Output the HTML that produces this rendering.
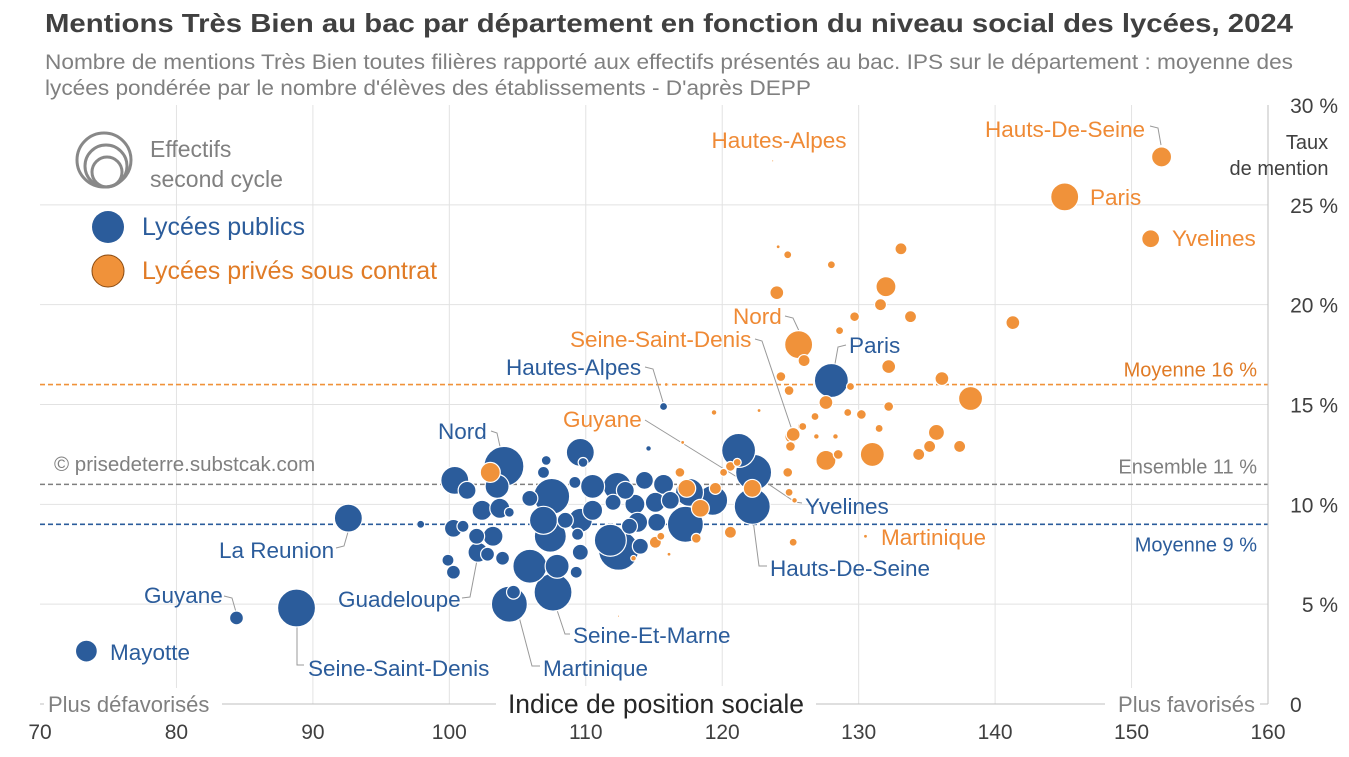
<!DOCTYPE html>
<html><head><meta charset="utf-8">
<style>
body{margin:0;background:#fff;}
svg{display:block;font-family:"Liberation Sans",sans-serif;}
</style></head>
<body>
<svg id="chart" width="1349" height="757" viewBox="0 0 1349 757">
<text x="45" y="32" font-size="26" font-weight="bold" fill="#404040" textLength="1248" lengthAdjust="spacingAndGlyphs">Mentions Très Bien au bac par département en fonction du niveau social des lycées, 2024</text>
<text x="45" y="69" font-size="21" fill="#808080" textLength="1248" lengthAdjust="spacingAndGlyphs">Nombre de mentions Très Bien toutes filières rapporté aux effectifs présentés au bac. IPS sur le département : moyenne des</text>
<text x="45" y="95" font-size="21" fill="#808080" textLength="766" lengthAdjust="spacingAndGlyphs">lycées pondérée par le nombre d'élèves des établissements - D'après DEPP</text>
<g id="grid"></g>
<g id="refs"></g>
<g id="leaders" stroke="#999" stroke-width="1" fill="none">
<polyline points="1150,126 1158,128 1161,145"/>
<polyline points="785,316 793,318 800,333"/>
<polyline points="755,339 762,341 792,430"/>
<polyline points="645,420 745,482"/>
<polyline points="645,367 653,369 663,402"/>
<polyline points="491,431 497,433 503,460"/>
<polyline points="846,345 838,347 833,375"/>
<polyline points="336,548 344,546 348,532"/>
<polyline points="224,596 232,598 236,612"/>
<polyline points="297,627 297,665 304,665"/>
<polyline points="462,598 470,597 478,555"/>
<polyline points="540,666 532,666 513,594"/>
<polyline points="570,634 565,634 553,598"/>
<polyline points="767,566 759,566 752,512"/>
<polyline points="802,503 795,502 755,475"/>
</g>
<g id="bubbles"></g>
<g id="axes"></g>
<g font-size="22.5">
<text x="779" y="148" text-anchor="middle" fill="#ef8a35">Hautes-Alpes</text>
<text x="985" y="137" fill="#ef8a35">Hauts-De-Seine</text>
<text x="1090" y="205" fill="#ef8a35">Paris</text>
<text x="1172" y="246" fill="#ef8a35">Yvelines</text>
<text x="733" y="324" fill="#ef8a35">Nord</text>
<text x="570" y="347" fill="#ef8a35">Seine-Saint-Denis</text>
<text x="563" y="427" fill="#ef8a35">Guyane</text>
<text x="881" y="545" fill="#ef8a35">Martinique</text>
<text x="506" y="375" fill="#2b5c9b">Hautes-Alpes</text>
<text x="438" y="439" fill="#2b5c9b">Nord</text>
<text x="849" y="353" fill="#2b5c9b">Paris</text>
<text x="219" y="558" fill="#2b5c9b">La Reunion</text>
<text x="144" y="603" fill="#2b5c9b">Guyane</text>
<text x="308" y="676" fill="#2b5c9b">Seine-Saint-Denis</text>
<text x="338" y="607" fill="#2b5c9b">Guadeloupe</text>
<text x="543" y="676" fill="#2b5c9b">Martinique</text>
<text x="573" y="643" fill="#2b5c9b">Seine-Et-Marne</text>
<text x="770" y="576" fill="#2b5c9b">Hauts-De-Seine</text>
<text x="805" y="514" fill="#2b5c9b">Yvelines</text>
<text x="110" y="660" fill="#2b5c9b">Mayotte</text>
</g>
<text x="54" y="471" font-size="20.5" fill="#808080">© prisedeterre.substcak.com</text>
<g>
<circle cx="104" cy="160" r="27" fill="none" stroke="#888" stroke-width="3"/>
<circle cx="106" cy="166" r="21" fill="none" stroke="#888" stroke-width="3"/>
<circle cx="107" cy="172" r="15" fill="none" stroke="#888" stroke-width="3"/>
<text x="150" y="157" font-size="23" fill="#808080">Effectifs</text>
<text x="150" y="187" font-size="23" fill="#808080">second cycle</text>
<circle cx="108" cy="227" r="16" fill="#2b5c9b"/>
<text x="142" y="235" font-size="25" fill="#2b5c9b">Lycées publics</text>
<circle cx="108" cy="271" r="16" fill="#f0923a" stroke="#8a4a10" stroke-width="1"/>
<text x="142" y="279" font-size="25" fill="#e07b26">Lycées privés sous contrat</text>
</g>
</svg>
<script>
const xTicks=[70,80,90,100,110,120,130,140,150,160];
const yTicks=[0,5,10,15,20,25,30];
const pubIPS=[73.4,84.4,88.8,92.6,97.9,100.4,101.3,104.0,103.5,107.1,106.9,109.6,109.8,102.4,103.7,104.4,100.3,101.0,102.0,103.2,102.1,102.8,103.9,99.9,100.3,105.9,107.9,104.4,104.7,107.6,107.5,105.9,106.9,107.4,109.2,110.5,109.6,110.5,108.5,109.4,109.6,109.3,112.3,112.0,113.6,114.3,115.7,113.8,115.2,115.1,111.8,112.4,114.0,113.2,117.3,117.6,119.3,121.2,122.3,122.2,114.6,115.7,128.0,112.9,116.2];
const pubRate=[2.65,4.31,4.81,9.31,9.0,11.2,10.7,11.9,10.9,12.2,11.6,12.6,12.1,9.7,9.8,9.6,8.8,8.9,8.4,8.4,7.6,7.5,7.3,7.2,6.6,6.9,6.9,5.0,5.6,5.6,10.4,10.3,9.2,8.4,11.1,10.9,9.2,9.7,9.2,8.5,7.6,6.6,10.9,10.1,10.0,11.2,11.0,9.1,9.1,10.1,8.2,7.7,7.9,8.9,9.0,10.6,10.2,12.7,11.6,9.9,12.8,14.9,16.2,10.7,10.2];
const pubEff=[30,12,90,49,4,49,20,100,36,6,9,49,6,25,25,6,20,9,16,25,25,12,12,9,12,72,36,81,12,90,81,16,49,64,9,36,36,25,16,9,16,9,49,16,25,20,25,25,20,25,64,100,16,16,81,49,56,72,81,81,2,4,72,20,20];
const privIPS=[152.2,145.1,151.4,123.7,141.3,136.1,138.2,133.8,133.1,124.8,128.0,124.0,132.0,131.6,129.7,128.6,125.6,126.0,124.3,124.9,127.6,129.4,132.2,132.2,129.2,130.2,126.8,125.8,131.5,125.1,125.0,135.7,135.2,137.4,131.0,127.6,128.5,134.4,124.8,119.4,126.9,128.3,103.0,116.9,117.4,119.5,118.4,118.1,115.1,115.5,113.5,120.6,122.2,120.6,120.1,125.2,125.9,124.9,125.3,125.2,116.1,112.4,130.5,117.1,121.1,115.9,122.7,124.1];
const privRate=[27.4,25.4,23.3,27.2,19.1,16.3,15.3,19.4,22.8,22.5,22.0,20.6,20.9,20.0,19.4,18.7,18.0,17.2,16.4,15.7,15.1,15.9,16.9,14.9,14.6,14.5,14.4,13.9,13.8,13.4,12.9,13.6,12.9,12.9,12.5,12.2,12.5,12.5,11.6,14.6,13.4,13.4,11.6,11.6,10.8,10.8,9.8,8.3,8.1,8.4,7.3,8.6,10.8,11.9,11.6,13.5,13.9,10.6,10.2,8.1,7.5,4.4,8.4,13.1,12.1,16.0,14.7,22.9];
const privEff=[25,49,20,0.3,12,12,36,9,9,4,4,12,25,9,6,4,49,9,6,6,12,4,12,6,4,6,4,4,4,12,6,16,9,9,36,25,6,9,6,2,2,2,25,6,20,9,20,6,9,4,2,9,20,6,4,12,4,4,2,4,1,0.3,1,1,4,1,1,1];

const NS='http://www.w3.org/2000/svg';
const X0=40,X1=1268,Y0=704,Y1=105;
function sx(v){return X0+(v-70)/(160-70)*(X1-X0);}
function sy(v){return Y0-(v-0)/(30-0)*(Y0-Y1);}
function sr(e){return 2*Math.sqrt(e);}
function mk(tag,attrs,parent){const e=document.createElementNS(NS,tag);for(const k in attrs)e.setAttribute(k,attrs[k]);parent.appendChild(e);return e;}

const grid=document.getElementById('grid');
xTicks.forEach(t=>{if(t>70&&t<160){const l=mk('line',{x1:sx(t),x2:sx(t),y1:Y1,y2:Y0,stroke:'#e2e2e2','stroke-width':1},grid);

}});
yTicks.forEach(t=>{if(t>0&&t<30){const l=mk('line',{x1:X0,x2:X1,y1:sy(t),y2:sy(t),stroke:'#e2e2e2','stroke-width':1},grid);

}});

const refs=document.getElementById('refs');
const refVals=[16,11,9];
const refColors=['#f0923a','#7f7f7f','#2b5c9b'];
const refLabels=['Moyenne 16 %','Ensemble 11 %','Moyenne 9 %'];
const refDy=[-8,-11,27];
refVals.forEach((v,i)=>{
 const l=mk('line',{x1:X0,x2:X1,y1:sy(v),y2:sy(v),stroke:refColors[i],'stroke-width':1.6,'stroke-dasharray':'5,3'},refs);
 
 
 const t=mk('text',{x:1257,y:sy(v)+refDy[i],'text-anchor':'end','font-size':20,fill:refColors[i]==='#f0923a'?'#e07b26':refColors[i]},refs);
 t.textContent=refLabels[i];
 
 
});

const bg=document.getElementById('bubbles');
function drawSeries(ips,rate,eff,fill,name){
 const idx=ips.map((_,i)=>i).sort((a,b)=>eff[b]-eff[a]);
 idx.forEach(i=>{
  const c=mk('circle',{cx:sx(ips[i]),cy:sy(rate[i]),r:Math.max(1,sr(eff[i])),fill:fill,stroke:'#fff','stroke-width':1.2},bg);
  
  
 });
}
drawSeries(pubIPS,pubRate,pubEff,'#2b5c9b','bubble-public');
drawSeries(privIPS,privRate,privEff,'#f0923a','bubble-private');

const ax=document.getElementById('axes');
let a=mk('line',{x1:X1,x2:X1,y1:Y1,y2:Y0,stroke:'#bfbfbf','stroke-width':1},ax);
a=mk('line',{x1:X0,x2:X1,y1:Y0,y2:Y0,stroke:'#bfbfbf','stroke-width':1},ax);
xTicks.forEach(t=>{const e=mk('text',{x:sx(t),y:739,'text-anchor':'middle','font-size':21,fill:'#404040'},ax);e.textContent=String(t);

});
yTicks.forEach(t=>{const e=mk('text',{x:t===0?1290:1338,y:sy(t)+8,'text-anchor':t===0?'start':'end','font-size':21,fill:'#404040'},ax);e.textContent=t===0?'0':t+' %';

});
let r=mk('rect',{x:496,y:686,width:320,height:32,fill:'#fff'},ax);
let e=mk('text',{x:656,y:713,'text-anchor':'middle','font-size':26.5,fill:'#262626'},ax);e.textContent='Indice de position sociale';


r=mk('rect',{x:44,y:688,width:178,height:26,fill:'#fff'},ax);
e=mk('text',{x:48,y:712,'font-size':22,fill:'#808080'},ax);e.textContent='Plus défavorisés';


r=mk('rect',{x:1105,y:688,width:155,height:26,fill:'#fff'},ax);
e=mk('text',{x:1255,y:712,'text-anchor':'end','font-size':22,fill:'#808080'},ax);e.textContent='Plus favorisés';


e=mk('text',{x:1307,y:149,'text-anchor':'middle','font-size':20,fill:'#404040'},ax);e.textContent='Taux';


e=mk('text',{x:1279,y:175,'text-anchor':'middle','font-size':20,fill:'#404040'},ax);e.textContent='de mention';


</script>
</body></html>
